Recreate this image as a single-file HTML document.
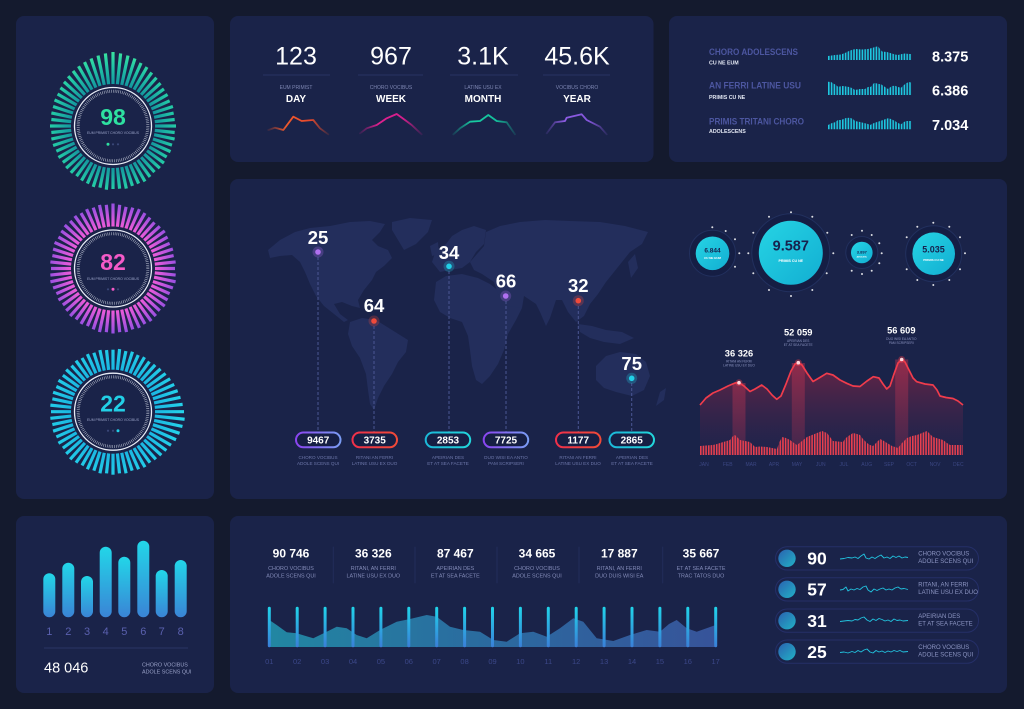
<!DOCTYPE html>
<html><head><meta charset="utf-8">
<style>
html,body{margin:0;padding:0;background:#141a2e;}
svg{display:block;font-family:"Liberation Sans",sans-serif;}
</style></head><body>
<svg width="1024" height="709" viewBox="0 0 1024 709" xmlns="http://www.w3.org/2000/svg">
<defs>
<radialGradient id="rg1" gradientUnits="userSpaceOnUse" cx="113" cy="126" r="76"><stop offset="0.55" stop-color="#14959e"/><stop offset="0.8" stop-color="#22c7a6"/><stop offset="1" stop-color="#3ee89e"/></radialGradient>
<radialGradient id="rg2" gradientUnits="userSpaceOnUse" cx="113" cy="268.5" r="68"><stop offset="0.6" stop-color="#f25cd8"/><stop offset="1" stop-color="#8a4ee2"/></radialGradient>
<radialGradient id="rg3" gradientUnits="userSpaceOnUse" cx="113" cy="411.7" r="74"><stop offset="0.55" stop-color="#1ab4e0"/><stop offset="1" stop-color="#26d8ec"/></radialGradient>
<mask id="m1" maskUnits="userSpaceOnUse" x="0" y="0" width="1024" height="709">
<g transform="translate(113,126)" stroke="#fff" stroke-width="3.2" fill="none">
<path d="M0-42V-74"/><path d="M0-42V-73" transform="rotate(6)"/><path d="M0-42V-72" transform="rotate(12)"/><path d="M0-42V-71" transform="rotate(18)"/><path d="M0-42V-69" transform="rotate(24)"/><path d="M0-42V-68" transform="rotate(30)"/><path d="M0-42V-66" transform="rotate(36)"/><path d="M0-42V-65" transform="rotate(42)"/><path d="M0-42V-64" transform="rotate(48)"/><path d="M0-42V-63" transform="rotate(54)"/>
<path d="M0-42V-63" transform="rotate(60)"/><path d="M0-42V-62" transform="rotate(66)"/><path d="M0-42V-63" transform="rotate(72)"/><path d="M0-42V-62" transform="rotate(78)"/><path d="M0-42V-62" transform="rotate(84)"/><path d="M0-42V-63" transform="rotate(90)"/><path d="M0-42V-62" transform="rotate(96)"/><path d="M0-42V-63" transform="rotate(102)"/><path d="M0-42V-62" transform="rotate(108)"/><path d="M0-42V-63" transform="rotate(114)"/>
<path d="M0-42V-62" transform="rotate(120)"/><path d="M0-42V-63" transform="rotate(126)"/><path d="M0-42V-63" transform="rotate(132)"/><path d="M0-42V-62" transform="rotate(138)"/><path d="M0-42V-63" transform="rotate(144)"/><path d="M0-42V-64" transform="rotate(150)"/><path d="M0-42V-63" transform="rotate(156)"/><path d="M0-42V-63" transform="rotate(162)"/><path d="M0-42V-64" transform="rotate(168)"/><path d="M0-42V-63" transform="rotate(174)"/>
<path d="M0-42V-63" transform="rotate(180)"/><path d="M0-42V-64" transform="rotate(186)"/><path d="M0-42V-63" transform="rotate(192)"/><path d="M0-42V-64" transform="rotate(198)"/><path d="M0-42V-63" transform="rotate(204)"/><path d="M0-42V-63" transform="rotate(210)"/><path d="M0-42V-62" transform="rotate(216)"/><path d="M0-42V-63" transform="rotate(222)"/><path d="M0-42V-63" transform="rotate(228)"/><path d="M0-42V-62" transform="rotate(234)"/>
<path d="M0-42V-63" transform="rotate(240)"/><path d="M0-42V-62" transform="rotate(246)"/><path d="M0-42V-63" transform="rotate(252)"/><path d="M0-42V-63" transform="rotate(258)"/><path d="M0-42V-62" transform="rotate(264)"/><path d="M0-42V-63" transform="rotate(270)"/><path d="M0-42V-62" transform="rotate(276)"/><path d="M0-42V-63" transform="rotate(282)"/><path d="M0-42V-63" transform="rotate(288)"/><path d="M0-42V-64" transform="rotate(294)"/>
<path d="M0-42V-64" transform="rotate(300)"/><path d="M0-42V-65" transform="rotate(306)"/><path d="M0-42V-66" transform="rotate(312)"/><path d="M0-42V-67" transform="rotate(318)"/><path d="M0-42V-68" transform="rotate(324)"/><path d="M0-42V-69" transform="rotate(330)"/><path d="M0-42V-70" transform="rotate(336)"/><path d="M0-42V-71" transform="rotate(342)"/><path d="M0-42V-72" transform="rotate(348)"/><path d="M0-42V-73" transform="rotate(354)"/>
</g></mask>
<mask id="m2" maskUnits="userSpaceOnUse" x="0" y="0" width="1024" height="709">
<g transform="translate(113,268.5)" stroke="#fff" stroke-width="3.2" fill="none">
<path d="M0-42V-65"/><path d="M0-42V-64" transform="rotate(6)"/><path d="M0-42V-63" transform="rotate(12)"/><path d="M0-42V-64" transform="rotate(18)"/><path d="M0-42V-65" transform="rotate(24)"/><path d="M0-42V-64" transform="rotate(30)"/><path d="M0-42V-63" transform="rotate(36)"/><path d="M0-42V-62" transform="rotate(42)"/><path d="M0-42V-63" transform="rotate(48)"/><path d="M0-42V-64" transform="rotate(54)"/>
<path d="M0-42V-63" transform="rotate(60)"/><path d="M0-42V-62" transform="rotate(66)"/><path d="M0-42V-63" transform="rotate(72)"/><path d="M0-42V-62" transform="rotate(78)"/><path d="M0-42V-63" transform="rotate(84)"/><path d="M0-42V-62" transform="rotate(90)"/><path d="M0-42V-63" transform="rotate(96)"/><path d="M0-42V-64" transform="rotate(102)"/><path d="M0-42V-63" transform="rotate(108)"/><path d="M0-42V-62" transform="rotate(114)"/>
<path d="M0-42V-63" transform="rotate(120)"/><path d="M0-42V-64" transform="rotate(126)"/><path d="M0-42V-63" transform="rotate(132)"/><path d="M0-42V-64" transform="rotate(138)"/><path d="M0-42V-65" transform="rotate(144)"/><path d="M0-42V-64" transform="rotate(150)"/><path d="M0-42V-65" transform="rotate(156)"/><path d="M0-42V-64" transform="rotate(162)"/><path d="M0-42V-65" transform="rotate(168)"/><path d="M0-42V-64" transform="rotate(174)"/>
<path d="M0-42V-65" transform="rotate(180)"/><path d="M0-42V-64" transform="rotate(186)"/><path d="M0-42V-65" transform="rotate(192)"/><path d="M0-42V-64" transform="rotate(198)"/><path d="M0-42V-63" transform="rotate(204)"/><path d="M0-42V-64" transform="rotate(210)"/><path d="M0-42V-63" transform="rotate(216)"/><path d="M0-42V-64" transform="rotate(222)"/><path d="M0-42V-63" transform="rotate(228)"/><path d="M0-42V-62" transform="rotate(234)"/>
<path d="M0-42V-63" transform="rotate(240)"/><path d="M0-42V-62" transform="rotate(246)"/><path d="M0-42V-63" transform="rotate(252)"/><path d="M0-42V-64" transform="rotate(258)"/><path d="M0-42V-63" transform="rotate(264)"/><path d="M0-42V-62" transform="rotate(270)"/><path d="M0-42V-63" transform="rotate(276)"/><path d="M0-42V-62" transform="rotate(282)"/><path d="M0-42V-63" transform="rotate(288)"/><path d="M0-42V-64" transform="rotate(294)"/>
<path d="M0-42V-63" transform="rotate(300)"/><path d="M0-42V-64" transform="rotate(306)"/><path d="M0-42V-65" transform="rotate(312)"/><path d="M0-42V-64" transform="rotate(318)"/><path d="M0-42V-65" transform="rotate(324)"/><path d="M0-42V-64" transform="rotate(330)"/><path d="M0-42V-65" transform="rotate(336)"/><path d="M0-42V-64" transform="rotate(342)"/><path d="M0-42V-65" transform="rotate(348)"/><path d="M0-42V-64" transform="rotate(354)"/>
</g></mask>
<mask id="m3" maskUnits="userSpaceOnUse" x="0" y="0" width="1024" height="709">
<g transform="translate(113,411.7)" stroke="#fff" stroke-width="3.2" fill="none">
<path d="M0-42V-62"/><path d="M0-42V-63" transform="rotate(6)"/><path d="M0-42V-62" transform="rotate(12)"/><path d="M0-42V-63" transform="rotate(18)"/><path d="M0-42V-62" transform="rotate(24)"/><path d="M0-42V-63" transform="rotate(30)"/><path d="M0-42V-62" transform="rotate(36)"/><path d="M0-42V-63" transform="rotate(42)"/><path d="M0-42V-64" transform="rotate(48)"/><path d="M0-42V-65" transform="rotate(54)"/>
<path d="M0-42V-66" transform="rotate(60)"/><path d="M0-42V-67" transform="rotate(66)"/><path d="M0-42V-68" transform="rotate(72)"/><path d="M0-42V-69" transform="rotate(78)"/><path d="M0-42V-70" transform="rotate(84)"/><path d="M0-42V-71" transform="rotate(90)"/><path d="M0-42V-72" transform="rotate(96)"/><path d="M0-42V-71" transform="rotate(102)"/><path d="M0-42V-70" transform="rotate(108)"/><path d="M0-42V-69" transform="rotate(114)"/>
<path d="M0-42V-67" transform="rotate(120)"/><path d="M0-42V-66" transform="rotate(126)"/><path d="M0-42V-65" transform="rotate(132)"/><path d="M0-42V-64" transform="rotate(138)"/><path d="M0-42V-63" transform="rotate(144)"/><path d="M0-42V-64" transform="rotate(150)"/><path d="M0-42V-63" transform="rotate(156)"/><path d="M0-42V-62" transform="rotate(162)"/><path d="M0-42V-63" transform="rotate(168)"/><path d="M0-42V-62" transform="rotate(174)"/>
<path d="M0-42V-63" transform="rotate(180)"/><path d="M0-42V-62" transform="rotate(186)"/><path d="M0-42V-63" transform="rotate(192)"/><path d="M0-42V-62" transform="rotate(198)"/><path d="M0-42V-63" transform="rotate(204)"/><path d="M0-42V-62" transform="rotate(210)"/><path d="M0-42V-63" transform="rotate(216)"/><path d="M0-42V-64" transform="rotate(222)"/><path d="M0-42V-63" transform="rotate(228)"/><path d="M0-42V-62" transform="rotate(234)"/>
<path d="M0-42V-63" transform="rotate(240)"/><path d="M0-42V-62" transform="rotate(246)"/><path d="M0-42V-63" transform="rotate(252)"/><path d="M0-42V-62" transform="rotate(258)"/><path d="M0-42V-63" transform="rotate(264)"/><path d="M0-42V-62" transform="rotate(270)"/><path d="M0-42V-63" transform="rotate(276)"/><path d="M0-42V-62" transform="rotate(282)"/><path d="M0-42V-63" transform="rotate(288)"/><path d="M0-42V-62" transform="rotate(294)"/>
<path d="M0-42V-63" transform="rotate(300)"/><path d="M0-42V-62" transform="rotate(306)"/><path d="M0-42V-63" transform="rotate(312)"/><path d="M0-42V-62" transform="rotate(318)"/><path d="M0-42V-63" transform="rotate(324)"/><path d="M0-42V-62" transform="rotate(330)"/><path d="M0-42V-63" transform="rotate(336)"/><path d="M0-42V-62" transform="rotate(342)"/><path d="M0-42V-63" transform="rotate(348)"/><path d="M0-42V-62" transform="rotate(354)"/>
</g></mask>

<linearGradient id="sDay" x1="0" y1="0" x2="1" y2="0"><stop offset="0" stop-color="#e8502a" stop-opacity="0.15"/><stop offset="0.3" stop-color="#ef5a2c"/><stop offset="0.7" stop-color="#e8482c"/><stop offset="1" stop-color="#e8502a" stop-opacity="0.15"/></linearGradient>
<linearGradient id="sWeek" x1="0" y1="0" x2="1" y2="0"><stop offset="0" stop-color="#d0208a" stop-opacity="0.15"/><stop offset="0.3" stop-color="#e0208e"/><stop offset="0.7" stop-color="#d61e8c"/><stop offset="1" stop-color="#d0208a" stop-opacity="0.15"/></linearGradient>
<linearGradient id="sMonth" x1="0" y1="0" x2="1" y2="0"><stop offset="0" stop-color="#16c7a0" stop-opacity="0.15"/><stop offset="0.3" stop-color="#18cba2"/><stop offset="0.7" stop-color="#14c09c"/><stop offset="1" stop-color="#16c7a0" stop-opacity="0.15"/></linearGradient>
<linearGradient id="sYear" x1="0" y1="0" x2="1" y2="0"><stop offset="0" stop-color="#8a5ae0" stop-opacity="0.15"/><stop offset="0.3" stop-color="#8e5ce4"/><stop offset="0.7" stop-color="#8456dc"/><stop offset="1" stop-color="#8a5ae0" stop-opacity="0.15"/></linearGradient>

<pattern id="cyanBars" patternUnits="userSpaceOnUse" x="828" y="0" width="2.8" height="20"><rect width="1.6" height="20" fill="#1ec8e0"/></pattern>
<pattern id="redBars" patternUnits="userSpaceOnUse" x="700" y="0" width="2.65" height="20"><rect width="1.6" height="20" fill="#e8404f"/></pattern>

<linearGradient id="pPur" x1="0" y1="0" x2="1" y2="0"><stop offset="0" stop-color="#8a44f0"/><stop offset="1" stop-color="#7a9cf4"/></linearGradient>
<linearGradient id="pRed" x1="0" y1="0" x2="1" y2="0"><stop offset="0" stop-color="#f0304a"/><stop offset="1" stop-color="#f04a38"/></linearGradient>
<linearGradient id="pCy" x1="0" y1="0" x2="1" y2="0"><stop offset="0" stop-color="#1cb8d8"/><stop offset="1" stop-color="#22d6dc"/></linearGradient>

<linearGradient id="circG" x1="0" y1="0" x2="1" y2="1"><stop offset="0" stop-color="#26d4e4"/><stop offset="1" stop-color="#12aed2"/></linearGradient>
<linearGradient id="redArea" x1="0" y1="0" x2="0" y2="1"><stop offset="0" stop-color="#7a2444" stop-opacity="0.85"/><stop offset="1" stop-color="#2a2450" stop-opacity="0.3"/></linearGradient>
<linearGradient id="hiCol" x1="0" y1="0" x2="0" y2="1"><stop offset="0" stop-color="#c23452" stop-opacity="0.45"/><stop offset="1" stop-color="#c23452" stop-opacity="0.2"/></linearGradient>

<linearGradient id="blBar" x1="0" y1="0" x2="0" y2="1"><stop offset="0" stop-color="#22d6e8"/><stop offset="1" stop-color="#3a84d6"/></linearGradient>
<linearGradient id="bmArea" x1="0" y1="0" x2="1" y2="0"><stop offset="0" stop-color="#2398b2"/><stop offset="0.5" stop-color="#2e76ae"/><stop offset="1" stop-color="#3c5ca8"/></linearGradient>
<linearGradient id="bmBar" x1="0" y1="0" x2="0" y2="1"><stop offset="0" stop-color="#20d4ea"/><stop offset="1" stop-color="#3a7ed8"/></linearGradient>
<linearGradient id="dotG" x1="0" y1="0" x2="1" y2="1"><stop offset="0" stop-color="#2a62b0"/><stop offset="1" stop-color="#22b2c6"/></linearGradient>
</defs>

<rect width="1024" height="709" fill="#141a2e"/>

<!-- panels -->
<rect x="16" y="16" width="198" height="483" rx="8" fill="#1a2349"/>
<rect x="230" y="16" width="423.5" height="146" rx="8" fill="#1a2349"/>
<rect x="669" y="16" width="338" height="146" rx="8" fill="#1a2349"/>
<rect x="230" y="179" width="777" height="320" rx="8" fill="#1a2349"/>
<rect x="16" y="516" width="198" height="177" rx="8" fill="#1a2349"/>
<rect x="230" y="516" width="777" height="177" rx="8" fill="#1a2349"/>

<!-- gauges -->
<rect x="30" y="40" width="170" height="170" fill="url(#rg1)" mask="url(#m1)"/>
<rect x="30" y="190" width="170" height="160" fill="url(#rg2)" mask="url(#m2)"/>
<rect x="30" y="330" width="170" height="170" fill="url(#rg3)" mask="url(#m3)"/>

<g fill="none" stroke="#e8ecf6">
<circle cx="113" cy="126" r="38.5" stroke-width="1.3"/>
<circle cx="113" cy="126" r="34.8" stroke-width="3" stroke-dasharray="0.5 1.32" opacity="0.85"/>
<circle cx="113" cy="268.5" r="38.5" stroke-width="1.3"/>
<circle cx="113" cy="268.5" r="34.8" stroke-width="3" stroke-dasharray="0.5 1.32" opacity="0.85"/>
<circle cx="113" cy="411.7" r="38.5" stroke-width="1.3"/>
<circle cx="113" cy="411.7" r="34.8" stroke-width="3" stroke-dasharray="0.5 1.32" opacity="0.85"/>
</g>
<g font-weight="bold" text-anchor="middle">
<text x="113" y="125" font-size="23" fill="#2ee0a0">98</text>
<text x="113" y="270" font-size="23" fill="#f45ac8">82</text>
<text x="113" y="411.7" font-size="23" fill="#22cfe6">22</text>
</g>
<g font-size="3.4" fill="#9aa3c8" text-anchor="middle">
<text x="113" y="134">EUM PRIMIST CHORO VOCIBUS</text>
<text x="113" y="280">EUM PRIMIST CHORO VOCIBUS</text>
<text x="113" y="421">EUM PRIMIST CHORO VOCIBUS</text>
</g>
<circle cx="108" cy="144.3" r="1.5" fill="#2ee0a0"/><circle cx="113" cy="144.3" r="1.1" fill="#3a4778"/><circle cx="118" cy="144.3" r="1.1" fill="#3a4778"/>
<circle cx="108" cy="289.3" r="1.1" fill="#3a4778"/><circle cx="113" cy="289.3" r="1.5" fill="#f45ac8"/><circle cx="118" cy="289.3" r="1.1" fill="#3a4778"/>
<circle cx="108" cy="430.7" r="1.1" fill="#3a4778"/><circle cx="113" cy="430.7" r="1.1" fill="#3a4778"/><circle cx="118" cy="430.7" r="1.5" fill="#22cfe6"/>

<!-- top middle stats -->
<g font-size="25" fill="#ffffff" text-anchor="middle">
<text x="296" y="64.3">123</text>
<text x="391" y="64.3">967</text>
<text x="483" y="64.3">3.1K</text>
<text x="577" y="64.3">45.6K</text>
</g>
<g stroke="#283364" stroke-width="1">
<line x1="263" y1="75" x2="330" y2="75"/>
<line x1="358" y1="75" x2="423" y2="75"/>
<line x1="450" y1="75" x2="518" y2="75"/>
<line x1="543" y1="75" x2="610" y2="75"/>
</g>
<g font-size="5" fill="#7d86b2" text-anchor="middle">
<text x="296" y="89">EUM PRIMIST</text>
<text x="391" y="89">CHORO VOCIBUS</text>
<text x="483" y="89">LATINE USU EX</text>
<text x="577" y="89">VOCIBUS CHORO</text>
</g>
<g font-size="10" font-weight="bold" fill="#ffffff" text-anchor="middle">
<text x="296" y="102">DAY</text>
<text x="391" y="102">WEEK</text>
<text x="483" y="102">MONTH</text>
<text x="577" y="102">YEAR</text>
</g>
<g fill="none" stroke-width="1.8" stroke-linejoin="round" stroke-linecap="round">
<polyline stroke="url(#sDay)" points="268.3,130 275,127.7 283.3,130 293.3,116.7 301.7,121 313.3,120 320,128.3 328.3,134.3"/>
<polyline stroke="url(#sWeek)" points="360,133.3 366.7,128.3 376.7,125 386.7,118.3 396.7,114 405,120 411.7,125 421.7,134.3"/>
<polyline stroke="url(#sMonth)" points="453.3,134.3 460,128.3 470,121.7 480,121 488.3,115 496.7,121 506.7,122.3 515,134.3"/>
<polyline stroke="url(#sYear)" points="546.7,133.3 555,122.3 565,121 566.7,117.7 581.7,114.3 586.7,120 600,126.7 606.7,134.3"/>
</g>

<!-- top right -->
<g font-size="9" font-weight="bold" fill="#4c56a0">
<text x="709" y="55" textLength="89" lengthAdjust="spacingAndGlyphs">CHORO ADOLESCENS</text>
<text x="709" y="88.3" textLength="92" lengthAdjust="spacingAndGlyphs">AN FERRI LATINE USU</text>
<text x="709" y="124.3" textLength="95" lengthAdjust="spacingAndGlyphs">PRIMIS TRITANI CHORO</text>
</g>
<g font-size="5.3" font-weight="bold" fill="#e2e6f2">
<text x="709" y="64.3">CU NE EUM</text>
<text x="709" y="99">PRIMIS CU NE</text>
<text x="709" y="133">ADOLESCENS</text>
</g>
<path fill="url(#cyanBars)" d="M828,60 L828,56 L835,55 L841,54.5 L846,52.5 L849,51 L853,49.5 L856,49 L862,49.5 L868,49 L872,48 L875,47 L878,46.3 L880,49 L882,51.5 L887,52 L891,53.3 L895,54.5 L898,55 L902,54 L905,53.5 L909,54 L912,54 L912,60 Z"/>
<path fill="url(#cyanBars)" d="M828,95 L828,81.7 L831,82 L833,83.3 L836,85 L838,86.7 L843,86 L848,86.7 L852,88 L855,90 L860,89 L865,89 L868,87 L871,86.7 L874,83 L876,83.3 L879,84 L881,84.3 L885,87 L888,89 L892,86 L895,85.7 L898,87 L901,87.7 L904,85 L906,83.3 L909,82 L912,82.7 L912,95 Z"/>
<path fill="url(#cyanBars)" d="M828,129.3 L828,125 L832,123 L835,122.3 L838,120 L841,120 L846,118 L850,117.7 L853,119 L855,121 L860,122 L865,123.3 L868,124 L870,125 L874,123 L878,121.7 L883,120 L888,118.3 L891,119 L895,121 L898,123 L901,124.3 L904,122 L906,121 L909,121 L912,121 L912,129.3 Z"/>
<g font-size="14.5" font-weight="bold" fill="#ffffff">
<text x="932" y="61.7">8.375</text>
<text x="932" y="95.3">6.386</text>
<text x="932" y="130">7.034</text>
</g>

<!-- world map -->
<g fill="#232e5c">
<path d="M268,250 L280,240 L295,232 L310,228 L330,226 L350,222 L370,221 L385,224 L380,232 L372,240 L378,246 L388,250 L392,258 L384,266 L376,272 L372,280 L364,290 L358,300 L360,308 L352,306 L342,302 L334,304 L340,314 L348,320 L344,322 L334,314 L324,306 L316,296 L310,284 L305,272 L300,262 L292,255 L280,256 L270,258 Z"/>
<path d="M392,222 L410,218 L432,220 L428,232 L416,244 L404,250 L398,240 L392,230 Z"/>
<path d="M350,322 L362,318 L376,320 L392,330 L408,340 L406,352 L398,362 L392,374 L384,386 L378,398 L374,410 L370,404 L368,390 L366,374 L360,358 L352,346 L348,334 Z"/>
<path d="M432,262 L436,250 L446,244 L452,236 L462,230 L474,226 L486,230 L484,244 L476,252 L470,262 L462,268 L450,270 L440,272 Z"/>
<path d="M430,246 L438,242 L439,254 L432,256 Z"/>
<path d="M436,282 L446,276 L462,274 L478,278 L490,284 L500,292 L512,304 L522,308 L516,320 L508,334 L504,350 L498,364 L490,376 L482,384 L476,380 L472,366 L470,350 L468,336 L462,322 L450,318 L440,312 L434,300 Z"/>
<path d="M470,262 L484,246 L486,232 L500,226 L520,222 L545,220 L570,221 L600,222 L625,226 L648,232 L642,244 L630,252 L622,262 L614,272 L606,282 L598,294 L590,304 L584,316 L576,322 L568,312 L562,300 L556,300 L550,318 L546,326 L540,312 L536,304 L524,296 L522,308 L508,306 L498,294 L494,282 L482,274 L474,270 Z"/>
<path d="M578,324 L592,326 L606,330 L622,332 L634,338 L620,344 L604,342 L590,338 L580,332 Z"/>
<path d="M628,262 L635,254 L638,268 L631,278 Z"/>
<path d="M596,366 L606,356 L620,352 L636,354 L646,362 L650,376 L644,390 L632,396 L616,392 L604,388 L596,380 Z"/>
<path d="M660,392 L666,388 L664,400 L656,406 Z"/>
</g>

<!-- dashed lines -->
<g stroke="#4b5794" stroke-width="1" stroke-dasharray="3 2">
<line x1="318" y1="257" x2="318" y2="432"/>
<line x1="374" y1="326" x2="374" y2="432"/>
<line x1="449" y1="271" x2="449" y2="432"/>
<line x1="506" y1="301" x2="506" y2="432"/>
<line x1="578.3" y1="306" x2="578.3" y2="432"/>
<line x1="631.7" y1="383" x2="631.7" y2="432"/>
</g>
<g>
<circle cx="318" cy="252" r="5.5" fill="#b070f0" opacity="0.25"/><circle cx="318" cy="252" r="2.8" fill="#b070f0"/>
<circle cx="374" cy="321" r="5.5" fill="#f04a3a" opacity="0.25"/><circle cx="374" cy="321" r="2.8" fill="#f04a3a"/>
<circle cx="449" cy="266.3" r="5.5" fill="#22d0e8" opacity="0.25"/><circle cx="449" cy="266.3" r="2.8" fill="#22d0e8"/>
<circle cx="505.7" cy="296" r="5.5" fill="#b070f0" opacity="0.25"/><circle cx="505.7" cy="296" r="2.8" fill="#b070f0"/>
<circle cx="578.3" cy="300.7" r="5.5" fill="#f04a3a" opacity="0.25"/><circle cx="578.3" cy="300.7" r="2.8" fill="#f04a3a"/>
<circle cx="631.7" cy="378.3" r="5.5" fill="#22d0e8" opacity="0.25"/><circle cx="631.7" cy="378.3" r="2.8" fill="#22d0e8"/>
</g>
<g font-size="18.5" font-weight="bold" fill="#ffffff" text-anchor="middle">
<text x="318" y="244">25</text>
<text x="374" y="312">64</text>
<text x="449" y="259">34</text>
<text x="506" y="287.7">66</text>
<text x="578.3" y="292">32</text>
<text x="631.7" y="370.2">75</text>
</g>
<g stroke-width="2" fill="#161f44">
<rect x="296" y="432.5" width="44.5" height="14.8" rx="7.4" stroke="url(#pPur)"/>
<rect x="352.5" y="432.5" width="44.5" height="14.8" rx="7.4" stroke="url(#pRed)"/>
<rect x="425.7" y="432.5" width="44.5" height="14.8" rx="7.4" stroke="url(#pCy)"/>
<rect x="483.7" y="432.5" width="44.5" height="14.8" rx="7.4" stroke="url(#pPur)"/>
<rect x="556" y="432.5" width="44.5" height="14.8" rx="7.4" stroke="url(#pRed)"/>
<rect x="609.5" y="432.5" width="44.5" height="14.8" rx="7.4" stroke="url(#pCy)"/>
</g>
<g font-size="10" font-weight="bold" fill="#ffffff" text-anchor="middle">
<text x="318.2" y="443.6">9467</text>
<text x="374.7" y="443.6">3735</text>
<text x="448" y="443.6">2853</text>
<text x="506" y="443.6">7725</text>
<text x="578.2" y="443.6">1177</text>
<text x="631.7" y="443.6">2865</text>
</g>
<g font-size="4.6" fill="#6d77aa" text-anchor="middle">
<text x="318" y="459">CHORO VOCIBUS</text><text x="318" y="465">ADOLE SCENS QUI</text>
<text x="374.5" y="459">RITANI AN FERRI</text><text x="374.5" y="465">LATINE USU EX DUO</text>
<text x="448" y="459">APEIRIAN DES</text><text x="448" y="465">ET AT SEA FACETE</text>
<text x="506" y="459">DUO WISI EA ANTIO</text><text x="506" y="465">PAM SCRIPSERI</text>
<text x="578" y="459">RITANI AN FERRI</text><text x="578" y="465">LATINE USU EX DUO</text>
<text x="632" y="459">APEIRIAN DES</text><text x="632" y="465">ET AT SEA FACETE</text>
</g>

<!-- circles -->
<g fill="#151e44">
<circle cx="712.5" cy="253.3" r="23"/>
<circle cx="790.8" cy="252.8" r="39"/>
<circle cx="861.8" cy="252.5" r="16"/>
<circle cx="933.7" cy="253.7" r="28"/>
</g>
<g fill="none" stroke="#22305e" stroke-width="1">
<circle cx="712.5" cy="253.3" r="23"/>
<circle cx="790.8" cy="252.8" r="39"/>
<circle cx="861.8" cy="252.5" r="16"/>
<circle cx="933.7" cy="253.7" r="28"/>
</g>
<g fill="url(#circG)">
<circle cx="712.5" cy="253.3" r="16.8"/>
<circle cx="790.8" cy="252.8" r="32"/>
<circle cx="861.8" cy="252.5" r="10.8"/>
<circle cx="933.7" cy="253.7" r="21.3"/>
</g>
<g fill="#ffffff" opacity="0.85">
<circle cx="791" cy="212.3" r="1"/><circle cx="812.3" cy="216.7" r="1"/><circle cx="827.3" cy="232.7" r="1"/><circle cx="833.3" cy="253.3" r="1"/><circle cx="826.7" cy="273.3" r="1"/><circle cx="812.3" cy="290" r="1"/><circle cx="791" cy="296" r="1"/><circle cx="753.3" cy="232.7" r="1"/><circle cx="748.3" cy="253.3" r="1"/><circle cx="753.3" cy="273.3" r="1"/><circle cx="769" cy="216.7" r="1"/><circle cx="769" cy="290" r="1"/>
<circle cx="712.3" cy="227.3" r="1"/><circle cx="725.7" cy="231" r="1"/><circle cx="735" cy="239.3" r="1"/><circle cx="739.3" cy="253.3" r="1"/><circle cx="735" cy="266.7" r="1"/>
<circle cx="862" cy="230.7" r="1"/><circle cx="871.7" cy="235" r="1"/><circle cx="879.3" cy="243.3" r="1"/><circle cx="881.7" cy="253.3" r="1"/><circle cx="879.3" cy="263.3" r="1"/><circle cx="871.7" cy="270.7" r="1"/><circle cx="862" cy="274" r="1"/><circle cx="851.7" cy="270.7" r="1"/><circle cx="851.7" cy="235" r="1"/>
<circle cx="933.3" cy="222.7" r="1"/><circle cx="949.3" cy="226.7" r="1"/><circle cx="960" cy="237.3" r="1"/><circle cx="965" cy="253.3" r="1"/><circle cx="960" cy="269.3" r="1"/><circle cx="949.3" cy="280" r="1"/><circle cx="933.3" cy="285" r="1"/><circle cx="917.3" cy="280" r="1"/><circle cx="906.7" cy="269.3" r="1"/><circle cx="906.7" cy="237.3" r="1"/><circle cx="917.3" cy="226.7" r="1"/>
</g>
<g font-weight="bold" fill="#17224e" text-anchor="middle">
<text x="712.5" y="252.5" font-size="6.5">6.844</text>
<text x="790.8" y="250.7" font-size="14.5">9.587</text>
<text x="861.8" y="253.5" font-size="4">3.897</text>
<text x="933.5" y="252.3" font-size="9">5.035</text>
</g>
<g font-weight="bold" fill="#ffffff" text-anchor="middle">
<text x="712.5" y="259" font-size="3">CU NE EUM</text>
<text x="790.8" y="262" font-size="3.6">PRIMIS CU NE</text>
<text x="861.8" y="257.5" font-size="2.2">ADOLESC</text>
<text x="933.5" y="261" font-size="3">PRIMIS CU NE</text>
</g>

<!-- red chart -->
<path fill="url(#redArea)" d="M700,405 L706,398 L713,393 L720,390 L728,386 L735,383 L739,382.7 L744,386 L750,391.5 L755,389 L761.7,385 L767,389 L772,395 L776.7,399.3 L781,396 L786,384 L791,371 L795,364 L798.3,362.7 L802,365 L807,373 L813,381.5 L819,378 L826.7,373.3 L833,375 L840,380 L846.7,383.3 L853,386 L860,386.5 L867,381 L873.3,376.7 L879,378 L883,384 L886.7,389 L890,386 L894,374 L898,363 L901.7,359.5 L905,362 L909,370 L913,378 L916.7,381.7 L925,384 L933,385 L937,390 L940,396 L946,397.5 L953,398.5 L958,401 L963,405 L963,455 L700,455 Z"/>
<rect x="732.5" y="383" width="13" height="72" fill="url(#hiCol)"/>
<rect x="791.8" y="363" width="13" height="92" fill="url(#hiCol)"/>
<rect x="895.2" y="359.5" width="13" height="95.5" fill="url(#hiCol)"/>
<path fill="url(#redBars)" d="M700,455 L700,446 L706,445.5 L713,445 L717,444 L720,443 L725,441.5 L730,440 L733,436 L735,435 L738,438 L740,440 L745,441 L750,442 L753,445 L755,447 L760,446.5 L767,447 L772,448 L777,449 L779,443 L782,437 L786,438 L790,440 L794,443 L797,445 L802,441 L807,437 L812,435 L817,433 L822,431 L827,433 L830,437 L833,441 L838,441.5 L843,442 L845,439 L847,437 L850,435 L853,433 L857,434 L860,435 L863,439 L867,443 L870,445 L873,446 L877,442 L880,439 L884,441 L887,443 L892,446 L898,448 L902,443 L907,438 L912,436 L917,435 L922,433 L927,431 L930,434 L933,437 L938,438.5 L943,440 L947,443 L950,445 L957,445 L963,445 L963,455 Z"/>
<polyline fill="none" stroke="#f03c4c" stroke-width="1.7" stroke-linejoin="round" points="700,405 706,398 713,393 720,390 728,386 735,383 739,382.7 744,386 750,391.5 755,389 761.7,385 767,389 772,395 776.7,399.3 781,396 786,384 791,371 795,364 798.3,362.7 802,365 807,373 813,381.5 819,378 826.7,373.3 833,375 840,380 846.7,383.3 853,386 860,386.5 867,381 873.3,376.7 879,378 883,384 886.7,389 890,386 894,374 898,363 901.7,359.5 905,362 909,370 913,378 916.7,381.7 925,384 933,385 937,390 940,396 946,397.5 953,398.5 958,401 963,405"/>
<circle cx="739" cy="382.7" r="3.5" fill="#f03c4c" opacity="0.4"/><circle cx="739" cy="382.7" r="1.8" fill="#ffd6dc"/>
<circle cx="798.3" cy="362.7" r="3.5" fill="#f03c4c" opacity="0.4"/><circle cx="798.3" cy="362.7" r="1.8" fill="#ffd6dc"/>
<circle cx="901.7" cy="359.5" r="3.5" fill="#f03c4c" opacity="0.4"/><circle cx="901.7" cy="359.5" r="1.8" fill="#ffd6dc"/>
<g font-size="9.3" font-weight="bold" fill="#ffffff" text-anchor="middle">
<text x="739" y="356.7">36 326</text>
<text x="798.2" y="335.6">52 059</text>
<text x="901.3" y="333.6">56 609</text>
</g>
<g font-size="3.2" fill="#8c94c0" text-anchor="middle">
<text x="739" y="362.5">RITANI AN FERRI</text><text x="739" y="366.5">LATINE USU EX DUO</text>
<text x="798.2" y="342">APEIRIAN DES</text><text x="798.2" y="346">ET AT SEA FACETE</text>
<text x="901.3" y="340">DUO WISI EA ANTIO</text><text x="901.3" y="344">PAM SCRIPSERI</text>
</g>
<g font-size="5" fill="#3b4682" text-anchor="middle">
<text x="704" y="466">JAN</text><text x="727.7" y="466">FEB</text><text x="751" y="466">MAR</text><text x="774" y="466">APR</text><text x="797" y="466">MAY</text><text x="820.7" y="466">JUN</text><text x="844" y="466">JUL</text><text x="866.7" y="466">AUG</text><text x="889" y="466">SEP</text><text x="911.7" y="466">OCT</text><text x="935" y="466">NOV</text><text x="958.3" y="466">DEC</text>
</g>

<!-- bottom left -->
<g fill="url(#blBar)">
<rect x="43.3" y="573.3" width="12" height="44" rx="6"/>
<rect x="62.3" y="562.7" width="12" height="54.6" rx="6"/>
<rect x="81" y="576" width="12" height="41.3" rx="6"/>
<rect x="99.7" y="546.7" width="12" height="70.6" rx="6"/>
<rect x="118.3" y="556.7" width="12" height="60.6" rx="6"/>
<rect x="137.3" y="540.7" width="12" height="76.6" rx="6"/>
<rect x="155.7" y="570" width="12" height="47.3" rx="6"/>
<rect x="174.7" y="560" width="12" height="57.3" rx="6"/>
</g>
<g font-size="11" fill="#5a60ae" text-anchor="middle">
<text x="49.3" y="635">1</text><text x="68.3" y="635">2</text><text x="87" y="635">3</text><text x="105.7" y="635">4</text><text x="124.3" y="635">5</text><text x="143.3" y="635">6</text><text x="161.7" y="635">7</text><text x="180.7" y="635">8</text>
</g>
<line x1="44" y1="648" x2="188" y2="648" stroke="#2a3465" stroke-width="1"/>
<text x="44" y="672.7" font-size="14.5" fill="#ffffff">48 046</text>
<g font-size="5.4" fill="#9aa2c8">
<text x="142" y="666.5">CHORO VOCIBUS</text>
<text x="142" y="673.5">ADOLE SCENS QUI</text>
</g>

<!-- bottom middle -->
<g font-size="12" font-weight="bold" fill="#ffffff" text-anchor="middle">
<text x="291" y="557.3">90 746</text>
<text x="373.3" y="557.3">36 326</text>
<text x="455.3" y="557.3">87 467</text>
<text x="537" y="557.3">34 665</text>
<text x="619.3" y="557.3">17 887</text>
<text x="701" y="557.3">35 667</text>
</g>
<g font-size="5.4" fill="#838bb8" text-anchor="middle">
<text x="291" y="570">CHORO VOCIBUS</text><text x="291" y="577.5">ADOLE SCENS QUI</text>
<text x="373.3" y="570">RITANI, AN FERRI</text><text x="373.3" y="577.5">LATINE USU EX DUO</text>
<text x="455.3" y="570">APEIRIAN DES</text><text x="455.3" y="577.5">ET AT SEA FACETE</text>
<text x="537" y="570">CHORO VOCIBUS</text><text x="537" y="577.5">ADOLE SCENS QUI</text>
<text x="619.3" y="570">RITANI, AN FERRI</text><text x="619.3" y="577.5">DUO DUIS WISI EA</text>
<text x="701" y="570">ET AT SEA FACETE</text><text x="701" y="577.5">TRAC TATOS DUO</text>
</g>
<g stroke="#222d5a" stroke-width="1">
<line x1="333.3" y1="546.7" x2="333.3" y2="583.3"/>
<line x1="415" y1="546.7" x2="415" y2="583.3"/>
<line x1="497" y1="546.7" x2="497" y2="583.3"/>
<line x1="579" y1="546.7" x2="579" y2="583.3"/>
<line x1="662.7" y1="546.7" x2="662.7" y2="583.3"/>
</g>
<path fill="url(#bmArea)" opacity="0.85" d="M269.3,647 L269.3,620 L276.7,625 L286.7,632.3 L296.7,633.3 L313.3,638.3 L326.7,631.7 L336.7,626.7 L346.7,628.3 L356.7,635 L366.7,638.3 L380,630 L396.7,621.7 L410,619 L426.7,615 L436.7,616.7 L450,626.7 L463.3,630 L480,631.7 L493.3,640 L506.7,641.7 L520,633.3 L533.3,631.7 L546.7,636.7 L560,628.3 L573.3,618.3 L583.3,621.7 L596.7,638.3 L613.3,641 L630,635 L646.7,630 L660,631.7 L669,624 L676.7,620 L686.7,628.3 L696.7,631.7 L715.7,625 L715.7,647 Z"/>
<g fill="url(#bmBar)">
<rect x="267.8" y="606.7" width="3" height="40.6" rx="1.5"/><rect x="295.7" y="606.7" width="3" height="40.6" rx="1.5"/><rect x="323.6" y="606.7" width="3" height="40.6" rx="1.5"/><rect x="351.5" y="606.7" width="3" height="40.6" rx="1.5"/><rect x="379.4" y="606.7" width="3" height="40.6" rx="1.5"/><rect x="407.3" y="606.7" width="3" height="40.6" rx="1.5"/><rect x="435.2" y="606.7" width="3" height="40.6" rx="1.5"/><rect x="463.1" y="606.7" width="3" height="40.6" rx="1.5"/><rect x="491" y="606.7" width="3" height="40.6" rx="1.5"/><rect x="518.9" y="606.7" width="3" height="40.6" rx="1.5"/><rect x="546.8" y="606.7" width="3" height="40.6" rx="1.5"/><rect x="574.7" y="606.7" width="3" height="40.6" rx="1.5"/><rect x="602.6" y="606.7" width="3" height="40.6" rx="1.5"/><rect x="630.5" y="606.7" width="3" height="40.6" rx="1.5"/><rect x="658.4" y="606.7" width="3" height="40.6" rx="1.5"/><rect x="686.3" y="606.7" width="3" height="40.6" rx="1.5"/><rect x="714.2" y="606.7" width="3" height="40.6" rx="1.5"/>
</g>
<g font-size="7.5" fill="#3b4788" text-anchor="middle">
<text x="269.3" y="664">01</text><text x="297.2" y="664">02</text><text x="325.1" y="664">03</text><text x="353" y="664">04</text><text x="380.9" y="664">05</text><text x="408.8" y="664">06</text><text x="436.7" y="664">07</text><text x="464.6" y="664">08</text><text x="492.5" y="664">09</text><text x="520.4" y="664">10</text><text x="548.3" y="664">11</text><text x="576.2" y="664">12</text><text x="604.1" y="664">13</text><text x="632" y="664">14</text><text x="659.9" y="664">15</text><text x="687.8" y="664">16</text><text x="715.7" y="664">17</text>
</g>

<!-- bottom right list -->
<g fill="none" stroke="#252f68" stroke-width="1">
<rect x="775.5" y="546.7" width="203" height="23.3" rx="11.6"/>
<rect x="775.5" y="577.7" width="203" height="23.3" rx="11.6"/>
<rect x="775.5" y="609" width="203" height="23.3" rx="11.6"/>
<rect x="775.5" y="640" width="203" height="23.3" rx="11.6"/>
</g>
<g fill="url(#dotG)">
<circle cx="787" cy="558.3" r="8.7"/>
<circle cx="787" cy="589.3" r="8.7"/>
<circle cx="787" cy="620.7" r="8.7"/>
<circle cx="787" cy="651.7" r="8.7"/>
</g>
<g font-size="17.5" font-weight="bold" fill="#ffffff" text-anchor="middle">
<text x="817" y="564.5">90</text>
<text x="817" y="595.5">57</text>
<text x="817" y="627">31</text>
<text x="817" y="658">25</text>
</g>
<g fill="none" stroke="#22c4e0" stroke-width="0.9" stroke-linejoin="round">
<polyline points="840,559 844,558.5 848,557.5 852,558 855,557 858,558.5 861,556 864,554 866,558 869,559 872,557 875,558.5 878,556.5 881,555 884,558 887,557 890,558.5 893,556 896,557.5 899,556 902,558 905,557 908,557.5"/>
<polyline points="840,590 843,589.5 846,587 848,591 851,589 854,590 857,588.5 860,589.5 863,587 866,586 868,590 871,592 874,589 877,590.5 880,589 883,588 886,590 889,589 892,590 895,588 898,587 901,589 904,588.5 908,589.5"/>
<polyline points="840,621.5 844,621 848,620.5 852,621 855,619.5 858,620 861,618 864,617 867,620 870,621.5 873,619 876,620.5 879,618.5 882,619.5 885,621 888,620 891,621.5 894,619 897,620.5 900,620 903,621 908,620.5"/>
<polyline points="840,652.5 844,652 848,653 852,651.5 855,652.5 858,650.5 861,652 864,650 867,649 870,652 873,653 876,650.5 879,652 882,651 885,652.5 888,651 891,652 894,650.5 897,651.5 900,650.5 903,652 908,651.5"/>
</g>
<g font-size="6" fill="#8c95c2">
<text x="918.3" y="555.5">CHORO VOCIBUS</text><text x="918.3" y="563">ADOLE SCENS QUI</text>
<text x="918.3" y="586.5">RITANI, AN FERRI</text><text x="918.3" y="594">LATINE USU EX DUO</text>
<text x="918.3" y="618">APEIRIAN DES</text><text x="918.3" y="625.5">ET AT SEA FACETE</text>
<text x="918.3" y="649">CHORO VOCIBUS</text><text x="918.3" y="656.5">ADOLE SCENS QUI</text>
</g>
</svg>
</body></html>
